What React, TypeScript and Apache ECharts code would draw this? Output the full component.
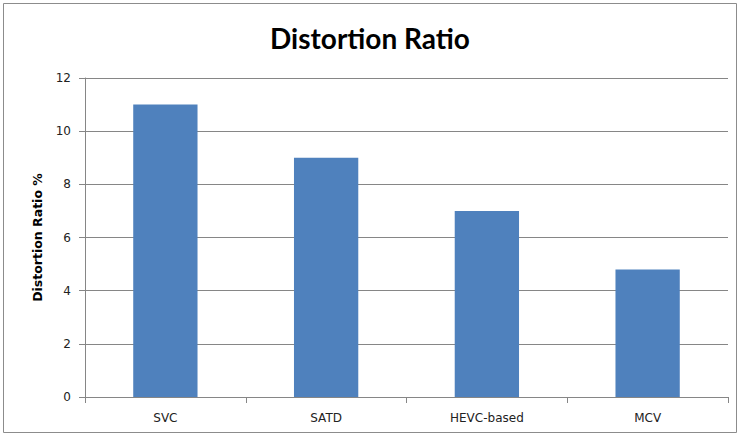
import React, { useEffect, useRef } from "react";
import * as echarts from "echarts";

const categories = ["SVC", "SATD", "HEVC-based", "MCV"];
const values = [11, 9, 7, 4.8];
const titleText = "Distortion Ratio";
const yAxisName = "Distortion Ratio %";

export default function App() {
  const ref = useRef<HTMLDivElement>(null);
  useEffect(() => {
    const chart = echarts.init(ref.current!, null, { renderer: "svg" });
    const axisColor = "#868686";
    chart.setOption({
      animation: false,
      backgroundColor: "#ffffff",
      title: {
        text: titleText,
        left: "center",
        top: 19,
        textStyle: { fontFamily: "Lato", fontWeight: "bold", fontSize: 28, color: "#000" },
      },
      graphic: [
        {
          type: "rect",
          shape: { x: 3.5, y: 3.5, width: 733, height: 429 },
          style: { fill: "none", stroke: "#8c8c8c", lineWidth: 1 },
        },
      ],
      grid: { left: 85, right: 12, top: 78, bottom: 39 },
      xAxis: {
        type: "category",
        data: categories,
        axisLine: { lineStyle: { color: axisColor } },
        axisTick: { show: true, length: 6, lineStyle: { color: axisColor }, alignWithLabel: false },
        axisLabel: { margin: 15, fontFamily: "DejaVu Sans", fontSize: 12, color: "#222" },
      },
      yAxis: {
        type: "value",
        min: 0,
        max: 12,
        interval: 2,
        name: yAxisName,
        nameLocation: "middle",
        nameRotate: 90,
        nameGap: 41,
        nameTextStyle: { fontFamily: "DejaVu Sans", fontWeight: "bold", fontSize: 12.5, color: "#000" },
        axisLine: { show: true, lineStyle: { color: axisColor } },
        axisTick: { show: true, length: 6, lineStyle: { color: axisColor } },
        splitLine: { lineStyle: { color: axisColor } },
        axisLabel: { margin: 14, fontFamily: "DejaVu Sans", fontSize: 12, color: "#222" },
      },
      series: [
        {
          type: "bar",
          data: values,
          barWidth: "40%",
          itemStyle: { color: "#4F81BD" },
        },
      ],
    });
    return () => chart.dispose();
  }, []);
  return (
    <div
      ref={ref}
      style={{ width: 740, height: 436, position: "absolute", left: 0, top: 0 }}
    />
  );
}
